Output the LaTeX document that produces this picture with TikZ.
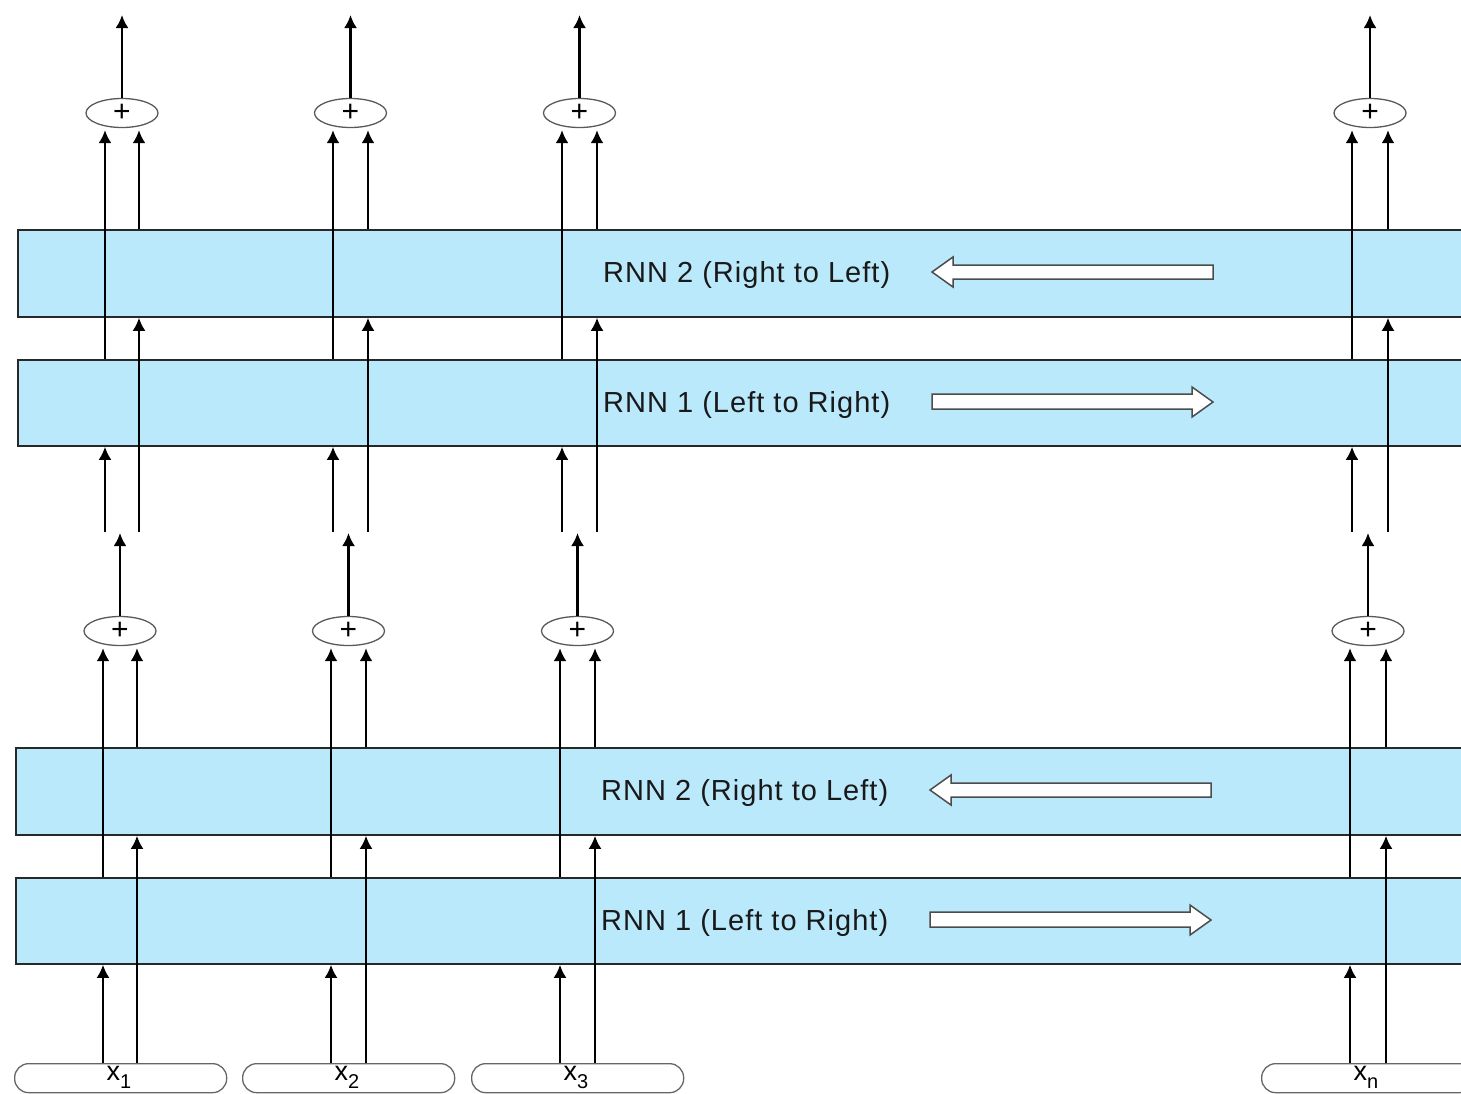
\documentclass[tikz,border=0pt]{standalone}
\usepackage{fontspec}
\setmainfont{Liberation Sans}
\usetikzlibrary{arrows.meta,shapes.geometric}
\definecolor{rnnfill}{RGB}{187,233,252}
\definecolor{edge}{RGB}{40,40,40}
\tikzset{
  rnnbox/.style={draw=edge, line width=1.8pt, fill=rnnfill, anchor=north west,
    minimum width=1480pt, inner sep=0pt},
  sumnode/.style={ellipse, draw=black!65, line width=1.3pt, fill=white,
    minimum width=72pt, minimum height=29pt, inner sep=0pt,
    font=\fontsize{30}{30}\selectfont},
  pill/.style={draw=black!60, line width=1.3pt, rounded corners=14pt,
    anchor=north west, minimum width=212pt, minimum height=29pt, inner sep=0pt},
  xlab/.style={anchor=base, inner sep=0pt, font=\fontsize{27}{27}\selectfont},
  flow/.style={line width=2.3pt, -{Latex[length=13pt,width=13pt]}},
  rnnlabel/.style={anchor=base west, inner sep=0pt, text=black!90,
    font=\fontsize{29}{29}\selectfont\addfontfeature{LetterSpace=3.5}},
  hollow/.style={draw=black!70, line width=1.5pt, fill=white, line join=miter},
}
\begin{document}
\begin{tikzpicture}[x=1pt,y=-1pt]
\clip (0,0) rectangle (1461,1093);
\fill[white] (0,0) rectangle (1461,1093);

% ---------- lower bidirectional layer ----------
\node[rnnbox, minimum height=87pt] (a2) at (15,747) {};
\node[rnnbox, minimum height=86pt] (a1) at (15,877) {};
\node[rnnlabel] (a2t) at (601,800) {RNN 2 (Right to Left)};
\node[rnnlabel] (a1t) at (601,930) {RNN 1 (Left to Right)};
\draw[hollow] (930,790) -- (951,775) -- (951,783) -- (1211,783) -- (1211,797)
  -- (951,797) -- (951,805) -- cycle;
\draw[hollow] (930,912) -- (1190,912) -- (1190,905) -- (1211,920) -- (1190,935)
  -- (1190,927) -- (930,927) -- cycle;

\foreach \i/\xl/\xr in {1/103/137, 2/331/366, 3/560/595, n/1350/1386}{
  \coordinate (aL\i) at (\xl,0);
  \coordinate (aR\i) at (\xr,0);
  \node[pill] (p\i) at (\xl-89,1063) {};
  \node[xlab] (x\i) at (\xl+16,1080) {x\raisebox{-8.5pt}{\fontsize{20}{20}\selectfont\i}};
  \node[sumnode] (as\i) at ({(\xl+\xr)/2},631) {+};
  \coordinate (ao\i) at ({(\xl+\xr)/2},533);
  \draw[flow] (aL\i |- p\i.north) -- (aL\i |- a1.south);
  \draw[flow] (aR\i |- p\i.north) -- (aR\i |- a2.south);
  \draw[flow] (aL\i |- a1.north) -- ([yshift=-2pt]aL\i |- as\i.south);
  \draw[flow] (aR\i |- a2.north) -- ([yshift=-2pt]aR\i |- as\i.south);
  \draw[flow] (as\i.north) -- (ao\i);
}

% ---------- upper bidirectional layer ----------
\node[rnnbox, minimum height=87pt] (b2) at (17,229) {};
\node[rnnbox, minimum height=86pt] (b1) at (17,359) {};
\node[rnnlabel] (b2t) at (603,282) {RNN 2 (Right to Left)};
\node[rnnlabel] (b1t) at (603,412) {RNN 1 (Left to Right)};
\draw[hollow] (932,272) -- (953,257) -- (953,265) -- (1213,265) -- (1213,279)
  -- (953,279) -- (953,287) -- cycle;
\draw[hollow] (932,394) -- (1192,394) -- (1192,387) -- (1213,402) -- (1192,417)
  -- (1192,409) -- (932,409) -- cycle;

\foreach \i/\xl/\xr in {1/105/139, 2/333/368, 3/562/597, n/1352/1388}{
  \coordinate (bL\i) at (\xl,532);
  \coordinate (bR\i) at (\xr,532);
  \node[sumnode] (bs\i) at ({(\xl+\xr)/2},113) {+};
  \coordinate (bo\i) at ({(\xl+\xr)/2},15);
  \draw[flow] (bL\i) -- (bL\i |- b1.south);
  \draw[flow] (bR\i) -- (bR\i |- b2.south);
  \draw[flow] (bL\i |- b1.north) -- ([yshift=-2pt]bL\i |- bs\i.south);
  \draw[flow] (bR\i |- b2.north) -- ([yshift=-2pt]bR\i |- bs\i.south);
  \draw[flow] (bs\i.north) -- (bo\i);
}
\end{tikzpicture}
\end{document}
